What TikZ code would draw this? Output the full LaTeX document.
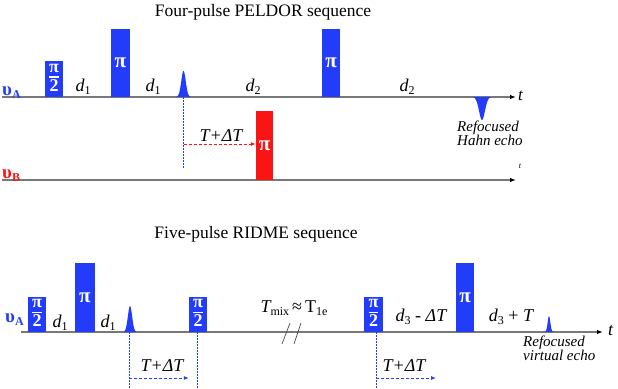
\documentclass[tikz,border=0pt]{standalone}
\usepackage{fontspec}
\setmainfont{Liberation Serif}
\usetikzlibrary{arrows.meta}
\definecolor{pblue}{RGB}{35,60,250}
\definecolor{pred}{RGB}{250,20,20}
\definecolor{axisgray}{RGB}{120,120,120}
\newcommand\fsz[1]{\fontsize{#1}{#1}\selectfont}
\newcommand\lowsub[1]{\raisebox{-0.35ex}{\fsz{12}\upshape #1}}
\newcommand\halfpi{{\fsz{18}\setlength\arrayrulewidth{1.3pt}\setlength\tabcolsep{0pt}\renewcommand\arraystretch{0.8}\begin{tabular}{c}π\\\hline\rule{0pt}{13.5pt}2\end{tabular}}}
\begin{document}
\begin{tikzpicture}[x=1pt,y=-1pt,
  pulse/.style={fill=pblue, draw=none, inner sep=0pt, anchor=south, text=white,
    font=\bfseries\fsz{21}},
  redpulse/.style={pulse, fill=pred},
  narrowp/.style={minimum width=18pt, minimum height=35pt},
  tallp/.style={minimum width=19pt, minimum height=68pt},
  axis/.style={draw=axisgray, line width=1.4pt, -{Latex[length=6pt,width=4.5pt,black]}},
  lbl/.style={inner sep=0pt, font=\itshape\fsz{18}},
  ttl/.style={inner sep=0pt, font=\fsz{17.5}},
  chan/.style={inner sep=0pt, font=\bfseries\fsz{19}},
  note/.style={inner sep=0pt, font=\itshape\fsz{15}, align=left},
  vdot/.style={draw=pblue, line width=1pt, dash pattern=on 1.5pt off 1.5pt},
  darrow/.style={line width=0.9pt, dash pattern=on 3pt off 2pt, -{Latex[length=5pt,width=4pt]}},
  echo/.style={fill=pblue, draw=none},
  brk/.style={draw=black!70, line width=0.7pt}
]
\useasboundingbox (0,0) rectangle (618,388);

% ---------------- Four-pulse PELDOR ----------------
\node[ttl] (title1) at (263,12) {Four-pulse PELDOR sequence};

\coordinate (A0) at (2,97);
\coordinate (A1) at (516,97);
\draw[axis] (A0) -- (A1);
\node[inner sep=0pt, font=\itshape\fsz{17}, anchor=west] (tA) at (518,96) {t};
\node[chan, text=pblue, anchor=south west] (vA) at (2,99) {υ\lowsub{\bfseries A}};

\coordinate (B0) at (2,180);
\coordinate (B1) at (516,180);
\draw[axis] (B0) -- (B1);
\node[inner sep=0pt, font=\itshape\fsz{8}] (tB) at (520,166) {t};
\node[chan, text=pred, anchor=south west] (vB) at (2,182) {υ\lowsub{\bfseries B}};

\node[pulse, narrowp, minimum height=36pt] (p1) at (54,97) {\halfpi};
\node[pulse, tallp] (p2) at (120.5,97) {π};
\node[pulse, tallp, minimum width=18pt] (p3) at (331,97) {π};
\node[redpulse, minimum width=17pt, minimum height=69pt] (pB) at (264.5,180) {π};

\fill[echo] plot[domain=-7.5:7.5, samples=41] ({183.5+\x}, {97-26*exp(-(\x/3.2)^2)}) -- cycle;
\coordinate (e1) at (183.5,97);
\fill[echo] plot[domain=-9:9, samples=41] ({482+\x}, {97+23*exp(-(\x/4.2)^2)}) -- cycle;

\node[lbl] (d1a) at (83,87) {d\lowsub{1}};
\node[lbl] (d1b) at (153,87) {d\lowsub{1}};
\node[lbl] (d2a) at (253,87) {d\lowsub{2}};
\node[lbl] (d2b) at (407,87) {d\lowsub{2}};

\node[note, anchor=north west] (hahn) at (457,121) {Refocused\\[-1pt]Hahn echo};

\coordinate (e1end) at (183.5,168);
\draw[vdot] (e1) -- (e1end);
\coordinate (e1arr) at (183.5,144);
\draw[darrow, draw=pred!80, pred] (e1arr) -- (pB.west |- e1arr);
\node[lbl] (tdt1) at (221,136) {T+ΔT};

% ---------------- Five-pulse RIDME ----------------
\node[ttl] (title2) at (256,234) {Five-pulse RIDME sequence};

\coordinate (C0) at (21,332);
\coordinate (C1) at (603,332);
\draw[axis] (C0) -- (C1);
\node[inner sep=0pt, font=\itshape\fsz{18}, anchor=west] (tC) at (608,331) {t};
\node[chan, text=pblue, anchor=south west] (vC) at (5,326) {υ\lowsub{\bfseries A}};

\node[pulse, narrowp] (q1) at (37,332) {\halfpi};
\node[pulse, tallp, minimum width=20pt, minimum height=69pt] (q2) at (85,332) {π};
\node[pulse, narrowp] (q3) at (198,332) {\halfpi};
\node[pulse, narrowp, minimum width=19pt] (q4) at (373.5,332) {\halfpi};
\node[pulse, tallp, minimum width=18pt, minimum height=69pt] (q5) at (465,332) {π};

\fill[echo] plot[domain=-7:7, samples=41] ({130+\x}, {332-26*exp(-(\x/3)^2)}) -- cycle;
\coordinate (e2) at (129,332);
\fill[echo] plot[domain=-4.5:4.5, samples=41] ({549+\x}, {332-16*exp(-(\x/1.9)^2)}) -- cycle;

\node[lbl] (d1c) at (60,323) {d\lowsub{1}};
\node[lbl] (d1d) at (108,323) {d\lowsub{1}};
\node[lbl] (d3a) at (421,317) {d\lowsub{3}\upshape{} - \itshape ΔT};
\node[lbl] (d3b) at (511,317) {d\lowsub{3}\upshape{} + \itshape T};
\node[lbl, font=\fsz{18}] (tmix) at (294,308) {\itshape T\upshape\lowsub{mix}\,≈\,T\lowsub{1e}};

\draw[brk] (282,344) -- (290,323);
\draw[brk] (294,344) -- (301,323);

\node[note, anchor=north west] (virt) at (523,336) {Refocused\\[-1pt]virtual echo};

\coordinate (e2end) at (129,388);
\draw[vdot] (e2) -- (e2end);
\coordinate (q3b) at (197.5,332);
\coordinate (q3end) at (197.5,388);
\draw[vdot] (q3b) -- (q3end);
\coordinate (q4b) at (376,332);
\coordinate (q4end) at (376,388);
\draw[vdot] (q4b) -- (q4end);

\coordinate (a1s) at (129,378);
\draw[darrow, draw=pblue, pblue] (a1s) -- (q3.west |- a1s);
\node[lbl] (tdt2) at (162,366) {T+ΔT};
\coordinate (a2s) at (376,378);
\coordinate (a2e) at (436,378);
\draw[darrow, draw=pblue, pblue] (a2s) -- (a2e);
\node[lbl] (tdt3) at (404,366) {T+ΔT};
\end{tikzpicture}
\end{document}
